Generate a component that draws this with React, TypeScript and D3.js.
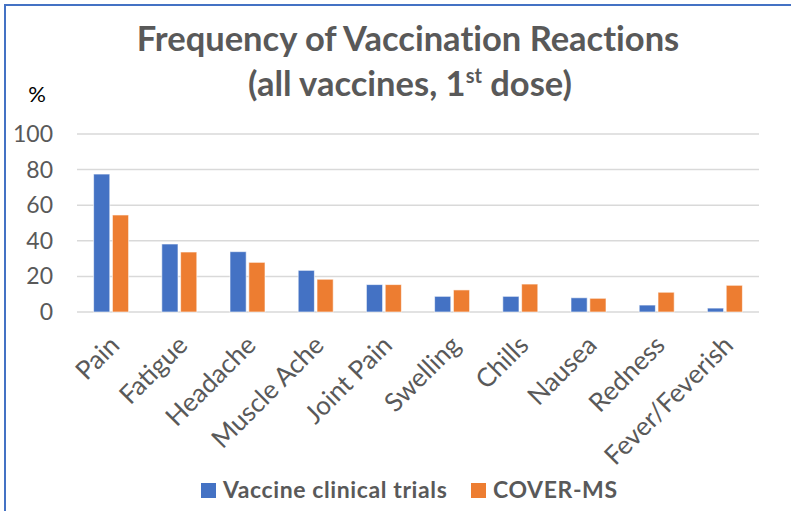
import React, { useEffect, useRef } from 'react';
import * as d3 from 'd3';

// chart data
const categories = ['Pain', 'Fatigue', 'Headache', 'Muscle Ache', 'Joint Pain', 'Swelling', 'Chills', 'Nausea', 'Redness', 'Fever/Feverish'];
const trialValues = [77.5, 38.2, 33.9, 23.4, 15.4, 8.8, 8.8, 8.0, 3.9, 2.2];
const coverValues = [54.5, 33.7, 27.9, 18.4, 15.4, 12.4, 15.7, 7.7, 11.1, 15.0];
const seriesNames = ['Vaccine clinical trials', 'COVER-MS'];
const yTicks = [0, 20, 40, 60, 80, 100];

const width = 791;
const height = 511;
const colors = ['#4472C4', '#ED7D31'];
const font = 'Lato, "Open Sans", sans-serif';

function App() {
    const ref = useRef<SVGSVGElement>(null);

    useEffect(() => {
        const svg = d3.select(ref.current);
        svg.selectAll('*').remove();

        svg.append('rect').attr('width', width).attr('height', height).attr('fill', '#fff');

        // outer border (only top and left visible)
        svg.append('rect')
            .attr('x', 5).attr('y', 5)
            .attr('width', width + 20).attr('height', height + 20)
            .attr('fill', 'none')
            .attr('stroke', '#4472C4')
            .attr('stroke-width', 2);

        const left = 77, right = 759, top = 134, bottom = 312;

        const x = d3.scaleBand().domain(categories).range([left, right]);
        const y = d3.scaleLinear().domain([0, 100]).range([bottom, top]);
        const inner = d3.scaleBand().domain(seriesNames).range([0, 35]).paddingInner(0.14);

        // title
        const title = svg.append('text')
            .attr('text-anchor', 'middle')
            .attr('font-family', font)
            .attr('font-weight', 'bold')
            .attr('font-size', 34.5)
            .style('font-variant-ligatures', 'none')
            .attr('fill', '#595959');
        title.append('tspan').attr('x', 408).attr('y', 51).text('Frequency of Vaccination Reactions');
        const l2 = title.append('tspan').attr('x', 410).attr('y', 96);
        l2.text('(all vaccines, 1');
        l2.append('tspan').attr('font-size', 20).attr('dy', -13).text('st');
        l2.append('tspan').attr('dy', 13).text(' dose)');

        // y unit
        svg.append('text')
            .attr('x', 37).attr('y', 102)
            .attr('text-anchor', 'middle')
            .attr('font-family', font)
            .attr('font-size', 22)
            .attr('fill', '#000')
            .text('%');

        // gridlines
        svg.append('g')
            .selectAll('line')
            .data(yTicks)
            .join('line')
            .attr('x1', left).attr('x2', right)
            .attr('y1', d => y(d)).attr('y2', d => y(d))
            .attr('stroke', '#D9D9D9')
            .attr('stroke-width', 1.5);

        svg.append('g')
            .selectAll('text')
            .data(yTicks)
            .join('text')
            .attr('x', 53)
            .attr('y', d => y(d))
            .attr('dy', '0.35em')
            .attr('text-anchor', 'end')
            .attr('font-family', font)
            .attr('font-size', 23)
            .attr('fill', '#595959')
            .text(d => d);

        // bars
        const series = [trialValues, coverValues];
        series.forEach((vals, s) => {
            svg.append('g')
                .selectAll('rect')
                .data(vals)
                .join('rect')
                .attr('x', (_, i) => x(categories[i])! + (x.bandwidth() - 35) / 2 + inner(seriesNames[s])!)
                .attr('y', d => y(d))
                .attr('width', inner.bandwidth())
                .attr('height', d => bottom - y(d))
                .attr('fill', colors[s])
                .attr('stroke', '#fff')
                .attr('stroke-opacity', 0.6)
                .attr('stroke-width', 1);
        });

        // category labels
        svg.append('g')
            .selectAll('text')
            .data(categories)
            .join('text')
            .attr('transform', d => `translate(${x(d)! + x.bandwidth() / 2 - 3}, ${334}) rotate(-45)`)
            .attr('dy', '0.7em')
            .attr('text-anchor', 'end')
            .attr('font-family', font)
            .attr('font-size', 26)
            .attr('fill', '#595959')
            .text(d => d);

        // legend
        const legendX = [201, 471];
        seriesNames.forEach((name, s) => {
            svg.append('rect')
                .attr('x', legendX[s]).attr('y', 483)
                .attr('width', 15).attr('height', 15)
                .attr('fill', colors[s]);
            svg.append('text')
                .attr('x', legendX[s] + 22).attr('y', 498)
                .attr('font-family', font)
                .attr('font-weight', 'bold')
                .attr('font-size', 23)
                .attr('letter-spacing', 0.6)
                .attr('fill', '#595959')
                .text(name);
        });
    }, []);

    return (
        <svg ref={ref} width={width} height={height}
             style={{ position: 'absolute', left: 0, top: 0, display: 'block' }} />
    );
}

export default App;
